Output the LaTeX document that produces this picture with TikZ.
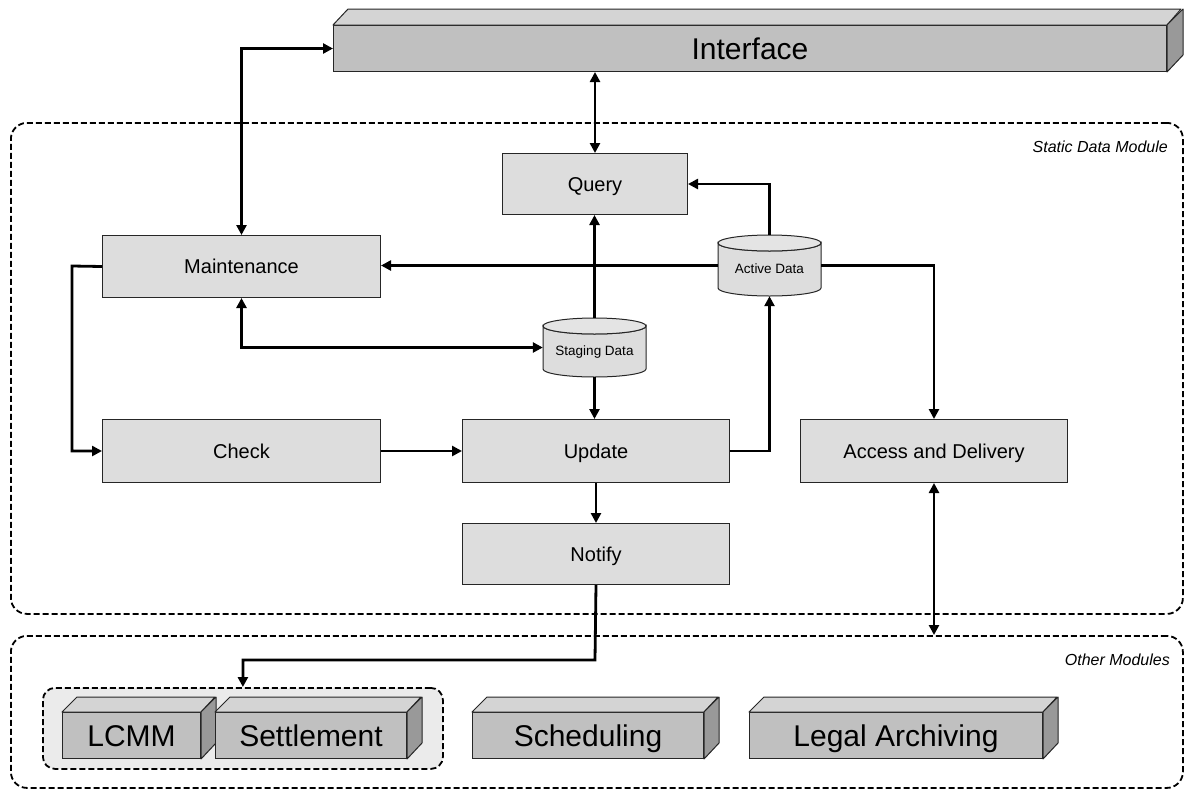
\documentclass[tikz,border=0pt]{standalone}
\usepackage{fontspec}
\setmainfont{Liberation Sans}
\usetikzlibrary{arrows.meta,calc}
\definecolor{flat}{HTML}{DDDDDD}
\definecolor{frontc}{HTML}{C0C0C0}
\definecolor{topc}{HTML}{D4D4D4}
\definecolor{sidec}{HTML}{999999}
\definecolor{grpc}{HTML}{EBEBEB}
\definecolor{cyltop}{HTML}{E4E4E4}
\tikzset{arr/.tip={Triangle[length=10pt,width=10pt]}}
\begin{document}
\begin{tikzpicture}[x=1pt,y=-1pt,
  flatbox/.style={draw=black!85, line width=1pt, fill=flat, inner sep=0pt, anchor=north west, font=\fontsize{20}{24}\selectfont, text height=14.3pt, text depth=0pt},
  frontbox/.style={draw=black!85, line width=1pt, fill=frontc, inner sep=0pt, anchor=north west, font=\fontsize{30}{36}\selectfont, text height=21.5pt, text depth=0pt},
  topface/.style={draw=black!85, line width=1pt, fill=topc, line join=round},
  sideface/.style={draw=black!85, line width=1pt, fill=sidec, line join=round},
  cylface/.style={draw=black!85, line width=1pt, fill=flat},
  cyltopface/.style={draw=black!85, line width=1pt, fill=cyltop},
  cylbox/.style={inner sep=0pt, font=\fontsize{13.5}{16}\selectfont, text height=9.7pt, text depth=0pt},
  conn/.style={line width=2.8pt, draw=black, solid},
  module/.style={draw=black, line width=1.8pt, dash pattern=on 6pt off 3pt, rounded corners=16pt, inner sep=0pt, anchor=north west},
  grpbox/.style={draw=black, fill=grpc, line width=1.8pt, dash pattern=on 6pt off 3pt, rounded corners=12pt, inner sep=0pt, anchor=north west},
  modlabel/.style={anchor=east, inner sep=0pt, font=\itshape\fontsize{16}{19}\selectfont, text height=11.5pt, text depth=0pt}
]
\useasboundingbox (0,0) rectangle (1184,788);

% modules
\node[module, minimum width=1172pt, minimum height=491pt] (SM) at (10,122) {};
\node[module, minimum width=1172pt, minimum height=152pt] (OM) at (10,635) {};
\node[modlabel] (SMl) at (1168,147) {Static Data Module};
\node[modlabel] (OMl) at (1170,660) {Other Modules};
\node[grpbox, minimum width=400pt, minimum height=81pt] (G) at (42,687) {};

% Interface 3D box
\node[frontbox, minimum width=833pt, minimum height=46pt] (If) at (333,25) {Interface};
\draw[topface] (If.north west) -- ++(15,-16) -- ++(833,0) -- (If.north east) -- cycle;
\draw[sideface] (If.north east) -- ++(16,-16) -- ++(0,46) -- (If.south east) -- cycle;

% bottom 3D boxes
\node[frontbox, minimum width=138pt, minimum height=46pt] (LC) at (62,712) {LCMM};
\draw[topface] (LC.north west) -- ++(15,-15) -- ++(138,0) -- (LC.north east) -- cycle;
\draw[sideface] (LC.north east) -- ++(15,-15) -- ++(0,46) -- (LC.south east) -- cycle;

\node[frontbox, minimum width=191pt, minimum height=46pt] (St) at (215,712) {Settlement};
\draw[topface] (St.north west) -- ++(15,-15) -- ++(191,0) -- (St.north east) -- cycle;
\draw[sideface] (St.north east) -- ++(15,-15) -- ++(0,46) -- (St.south east) -- cycle;

\node[frontbox, minimum width=231pt, minimum height=46pt] (Sc) at (472,712) {Scheduling};
\draw[topface] (Sc.north west) -- ++(15,-15) -- ++(231,0) -- (Sc.north east) -- cycle;
\draw[sideface] (Sc.north east) -- ++(15,-15) -- ++(0,46) -- (Sc.south east) -- cycle;

\node[frontbox, minimum width=293pt, minimum height=46pt] (LA) at (749,712) {Legal Archiving};
\draw[topface] (LA.north west) -- ++(15,-15) -- ++(293,0) -- (LA.north east) -- cycle;
\draw[sideface] (LA.north east) -- ++(15,-15) -- ++(0,46) -- (LA.south east) -- cycle;

% flat boxes
\node[flatbox, minimum width=185pt, minimum height=61pt] (Q) at (502,153) {Query};
\node[flatbox, minimum width=278pt, minimum height=62pt] (M) at (102,235) {Maintenance};
\node[flatbox, minimum width=278pt, minimum height=63pt] (C) at (102,419) {Check};
\node[flatbox, minimum width=267pt, minimum height=63pt] (U) at (462,419) {Update};
\node[flatbox, minimum width=267pt, minimum height=61pt] (N) at (462,523) {Notify};
\node[flatbox, minimum width=267pt, minimum height=63pt] (A) at (800,419) {Access and Delivery};

% cylinders
\draw[cylface] (718,243) -- (718,288) arc[start angle=180, end angle=0, x radius=51.5, y radius=8] -- (821,243) arc[start angle=0, end angle=180, x radius=51.5, y radius=8] -- cycle;
\draw[cyltopface] (769.5,243) ellipse [x radius=51.5, y radius=8];
\node[cylbox, minimum width=103pt, minimum height=61pt] (AD) at (769.5,265.5) {};
\node[cylbox] (ADt) at (769.5,269) {Active Data};

\draw[cylface] (543,326) -- (543,369) arc[start angle=180, end angle=0, x radius=51.5, y radius=8] -- (646,326) arc[start angle=0, end angle=180, x radius=51.5, y radius=8] -- cycle;
\draw[cyltopface] (594.5,326) ellipse [x radius=51.5, y radius=8];
\node[cylbox, minimum width=103pt, minimum height=59pt] (SD) at (594.5,347.5) {};
\node[cylbox] (SDt) at (594.5,351) {Staging Data};

% connectors
\draw[conn, arr-arr] (M.north) |- (If.west);
\draw[conn, arr-arr] (Q.north) -- (Q.north |- If.south);
\draw[conn, -arr] (SD.north) -- (SD.north |- Q.south);
\draw[conn, -arr] (SD.south) -- (SD.south |- U.north);
\draw[conn, arr-arr] (M.south) |- (SD.west);
\draw[conn, -arr] (AD.west) -- (AD.west -| M.east);
\draw[conn, -arr] (AD.north) |- (Q.east);
\draw[conn, -arr] (AD.east) -| (A.north);
\draw[conn, -arr] (U.east) -| (AD.south);
\coordinate (ml) at (72,266);
\draw[conn, -arr] (M.west) -- (ml) |- (C.west);
\draw[conn, -arr] (C.east) -- (U.west);
\draw[conn, -arr] (U.south) -- (U.south |- N.north);
\coordinate (nb) at (595,660);
\draw[conn, -arr] (N.south) -- (nb) -| (G.north);
\draw[conn, arr-arr] (A.south) -- (A.south |- OM.north);
\end{tikzpicture}
\end{document}
